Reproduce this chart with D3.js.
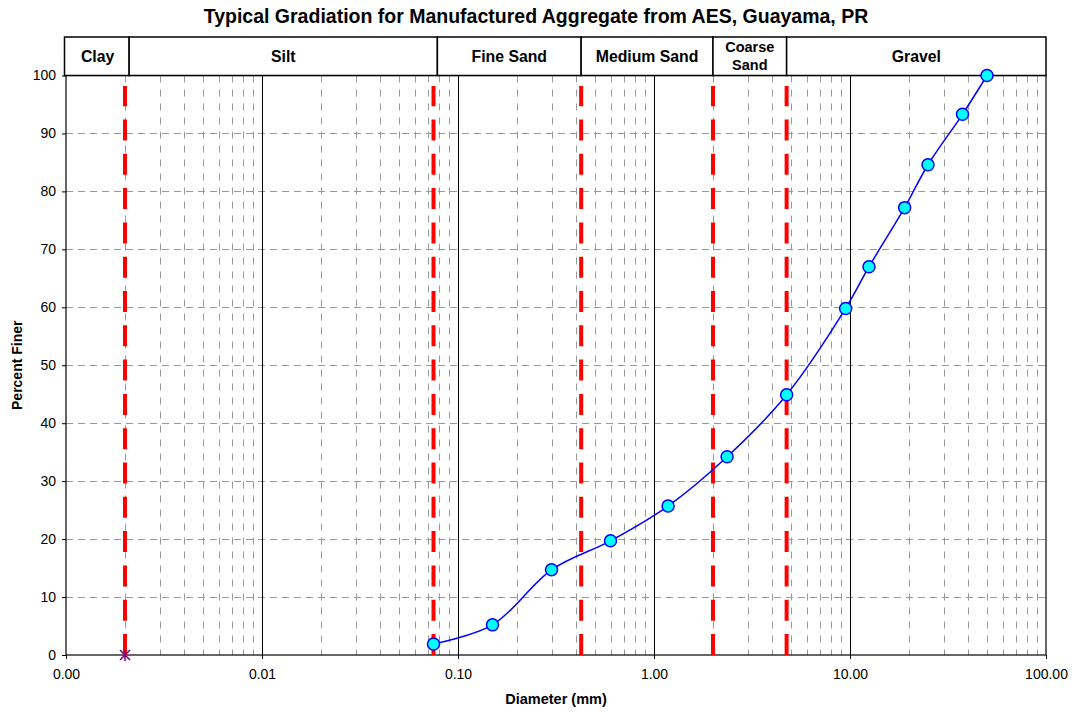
<!DOCTYPE html>
<html><head><meta charset="utf-8">
<script src="https://cdn.jsdelivr.net/npm/d3@7"></script>
<style>body{margin:0;background:#fff;font-family:"Liberation Sans",Arial,sans-serif;}</style>
</head><body>
<svg id="chart" width="1074" height="715"></svg>
<script>
const title = "Typical Gradiation for Manufactured Aggregate from AES, Guayama, PR";
const diameters = [0.075, 0.15, 0.3, 0.6, 1.18, 2.36, 4.75, 9.5, 12.5, 19, 25, 37.5, 50];
const percentFiner = [1.9, 5.2, 14.7, 19.7, 25.7, 34.2, 44.9, 59.8, 67.0, 77.2, 84.6, 93.3, 100];
const boundaries = [0.002, 0.075, 0.425, 2.0, 4.75];
const zoneNames = [["Clay"], ["Silt"], ["Fine Sand"], ["Medium Sand"], ["Coarse", "Sand"], ["Gravel"]];
const zoneEdges = [0.001, 0.0021, 0.0785, 0.425, 2.0, 4.75, 100];
const xTicks = [0.001, 0.01, 0.1, 1, 10, 100];
const xTickLabels = ["0.00", "0.01", "0.10", "1.00", "10.00", "100.00"];
const yTicks = [0, 10, 20, 30, 40, 50, 60, 70, 80, 90, 100];
const markerPoint = [0.002, 0];

const svg = d3.select("#chart");
const L = 66, R = 1046, T = 75.5, B = 655;
const x = d3.scaleLog().domain([0.001, 100]).range([L, R]);
const y = d3.scaleLinear().domain([0, 100]).range([B, T]);
const font = '"Liberation Sans", Arial, sans-serif';

// minor vertical gridlines
const minor = [];
for (let d = 0.001; d < 99; d *= 10) for (let k = 2; k <= 9; k++) minor.push(d * k);
svg.append("g").selectAll("line").data(minor).join("line")
  .attr("x1", d => Math.round(x(d)) + 0.5).attr("x2", d => Math.round(x(d)) + 0.5)
  .attr("y1", T).attr("y2", B)
  .attr("stroke", "#999").attr("stroke-width", 1).attr("stroke-dasharray", "7,7");
// horizontal gridlines
svg.append("g").selectAll("line").data(yTicks.filter(v => v > 0 && v < 100)).join("line")
  .attr("x1", L).attr("x2", R)
  .attr("y1", d => Math.round(y(d)) + 0.5).attr("y2", d => Math.round(y(d)) + 0.5)
  .attr("stroke", "#999").attr("stroke-width", 1).attr("stroke-dasharray", "7,5");
// major vertical gridlines
svg.append("g").selectAll("line").data(xTicks.slice(1, -1)).join("line")
  .attr("x1", d => Math.round(x(d)) + 0.5).attr("x2", d => Math.round(x(d)) + 0.5)
  .attr("y1", T).attr("y2", B).attr("stroke", "#000").attr("stroke-width", 1);

// plot border
svg.append("rect").attr("x", L).attr("y", T).attr("width", R - L).attr("height", B - T)
  .attr("fill", "none").attr("stroke", "#000").attr("stroke-width", 1.2);

// red boundary lines
svg.append("g").selectAll("line").data(boundaries).join("line")
  .attr("x1", d => x(d)).attr("x2", d => x(d))
  .attr("y1", B).attr("y2", y(98.2))
  .attr("stroke", "#ff0000").attr("stroke-width", 4).attr("stroke-dasharray", "21,13.3");

// axes
const yAxis = d3.axisLeft(y).tickValues(yTicks).tickSize(4).tickPadding(6);
const gy = svg.append("g").attr("transform", `translate(${L},0)`).call(yAxis);
gy.select(".domain").remove();
gy.selectAll("text").attr("font-size", 14).attr("font-family", font).attr("fill", "#000");
const xAxis = d3.axisBottom(x).tickValues(xTicks).tickFormat((d, i) => xTickLabels[i]).tickSize(4).tickPadding(10);
const gx = svg.append("g").attr("transform", `translate(0,${B})`).call(xAxis);
gx.select(".domain").remove();
gx.selectAll("text").attr("font-size", 14).attr("font-family", font).attr("fill", "#000");

// zone header boxes
const zones = zoneNames.map((n, i) => ({ n, a: zoneEdges[i], b: zoneEdges[i + 1] }));
const zg = svg.append("g").selectAll("g").data(zones).join("g");
zg.append("rect").attr("x", d => x(d.a) - (d.a === 0.001 ? 1.5 : 0)).attr("y", 37)
  .attr("width", d => x(d.b) - x(d.a) + (d.a === 0.001 ? 1.5 : 0)).attr("height", T - 37)
  .attr("fill", "#fff").attr("stroke", "#000").attr("stroke-width", 1.5);
zg.each(function(d) {
  const g = d3.select(this);
  const cx = (x(d.a) + x(d.b)) / 2;
  if (d.n.length === 1) {
    g.append("text").attr("x", cx).attr("y", 62).attr("text-anchor", "middle")
      .attr("font-size", 15.8).attr("font-weight", "bold").attr("font-family", font).text(d.n[0]);
  } else {
    d.n.forEach((t, j) => g.append("text").attr("x", cx).attr("y", 52 + j * 18).attr("text-anchor", "middle")
      .attr("font-size", 14.5).attr("font-weight", "bold").attr("font-family", font).text(t));
  }
});

// data line
const pts = diameters.map((d, i) => [x(d), y(percentFiner[i])]);
svg.append("path").attr("d", d3.line().curve(d3.curveCatmullRom.alpha(0.5))(pts))
  .attr("fill", "none").attr("stroke", "#0000ff").attr("stroke-width", 1.5);
svg.append("g").selectAll("circle").data(pts).join("circle")
  .attr("cx", d => d[0]).attr("cy", d => d[1]).attr("r", 6)
  .attr("fill", "#00ffff").attr("stroke", "#0000ff").attr("stroke-width", 1.5);

// asterisk marker
const mx = x(markerPoint[0]), my = y(markerPoint[1]);
const s = 5;
svg.append("path")
  .attr("d", `M${mx - s},${my - s}L${mx + s},${my + s}M${mx - s},${my + s}L${mx + s},${my - s}M${mx},${my - s - 1}L${mx},${my + s + 1}`)
  .attr("stroke", "#800080").attr("stroke-width", 1.5).attr("fill", "none");

// titles
svg.append("text").attr("x", 536).attr("y", 23).attr("text-anchor", "middle")
  .attr("font-size", 19.5).attr("font-weight", "bold").attr("font-family", font).text(title);
svg.append("text").attr("x", 556).attr("y", 704).attr("text-anchor", "middle")
  .attr("font-size", 14.5).attr("font-weight", "bold").attr("font-family", font).text("Diameter (mm)");
svg.append("text").attr("transform", `translate(22,${(T + B) / 2}) rotate(-90)`).attr("text-anchor", "middle")
  .attr("font-size", 14).attr("font-weight", "bold").attr("font-family", font).text("Percent Finer");
</script>
</body></html>
